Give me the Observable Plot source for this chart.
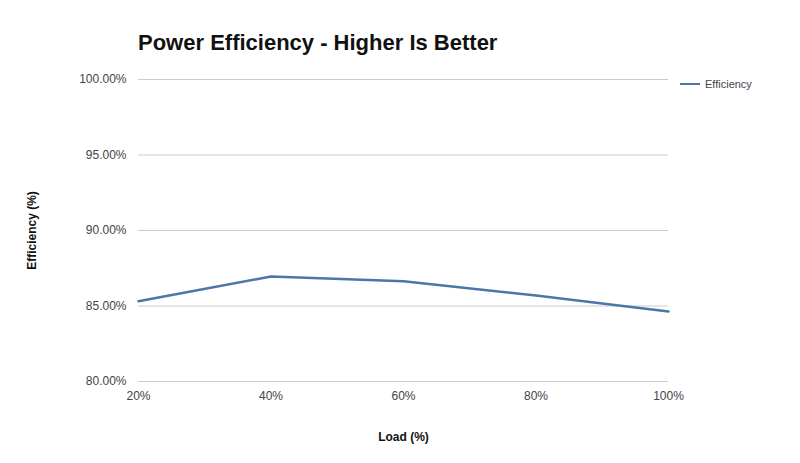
<!DOCTYPE html>
<html>
<head>
<meta charset="utf-8">
<script src="https://cdn.jsdelivr.net/npm/d3@7"></script>
<script src="https://cdn.jsdelivr.net/npm/@observablehq/plot@0.6"></script>
<style>
  html, body { margin: 0; padding: 0; background: #fff; }
  #wrap { position: relative; width: 800px; height: 463px; font-family: "Liberation Sans", Arial, sans-serif; }
  #title { position: absolute; left: 138px; top: 30px; font-size: 22px; font-weight: bold; color: #111; white-space: nowrap; }
  #legend { position: absolute; left: 680px; top: 78px; font-size: 11px; color: #444; display: flex; align-items: center; }
  #legend .sw { width: 20px; height: 0; border-top: 2.5px solid #4a76a8; margin-right: 5px; }
</style>
</head>
<body>
<div id="wrap">
  <div id="chart"></div>
  <div id="title">Power Efficiency - Higher Is Better</div>
  <div id="legend"><span class="sw"></span><span>Efficiency</span></div>
</div>
<script>
const loads = [20, 40, 60, 80, 100];
const efficiency = [85.32, 86.95, 86.64, 85.70, 84.64];
const yTicks = [80, 85, 90, 95, 100];
const seriesName = "Efficiency";

const data = loads.map((l, i) => ({load: l, eff: efficiency[i], series: seriesName}));

const chart = Plot.plot({
  width: 800,
  height: 463,
  marginTop: 79,
  marginBottom: 82,
  marginLeft: 138,
  marginRight: 132,
  style: {fontFamily: "'Liberation Sans', Arial, sans-serif", fontSize: "12px", color: "#444", background: "#fff"},
  x: {domain: [20, 100], ticks: loads, tickFormat: d => d + "%", label: null},
  y: {domain: [80, 100], ticks: yTicks, tickFormat: d => d.toFixed(2) + "%", label: null},
  marks: [
    Plot.ruleY(yTicks, {stroke: "#cccccc", strokeWidth: 1}),
    Plot.axisY({ticks: yTicks, tickFormat: d => d.toFixed(2) + "%", tickSize: 0, tickPadding: 12, label: null, fill: "#444"}),
    Plot.axisX({ticks: loads, tickFormat: d => d + "%", tickSize: 0, tickPadding: 10, label: null, fill: "#444"}),
    Plot.line(data, {x: "load", y: "eff", stroke: "#4a76a8", strokeWidth: 2.5}),
    Plot.text(["Load (%)"], {frameAnchor: "bottom", dy: 59, fontWeight: "bold", fill: "#111", fontSize: 12}),
    Plot.text(["Efficiency (%)"], {frameAnchor: "left", dx: -106, rotate: -90, textAnchor: "middle", fontWeight: "bold", fill: "#111", fontSize: 12})
  ]
});
document.getElementById("chart").appendChild(chart);
</script>
</body>
</html>
